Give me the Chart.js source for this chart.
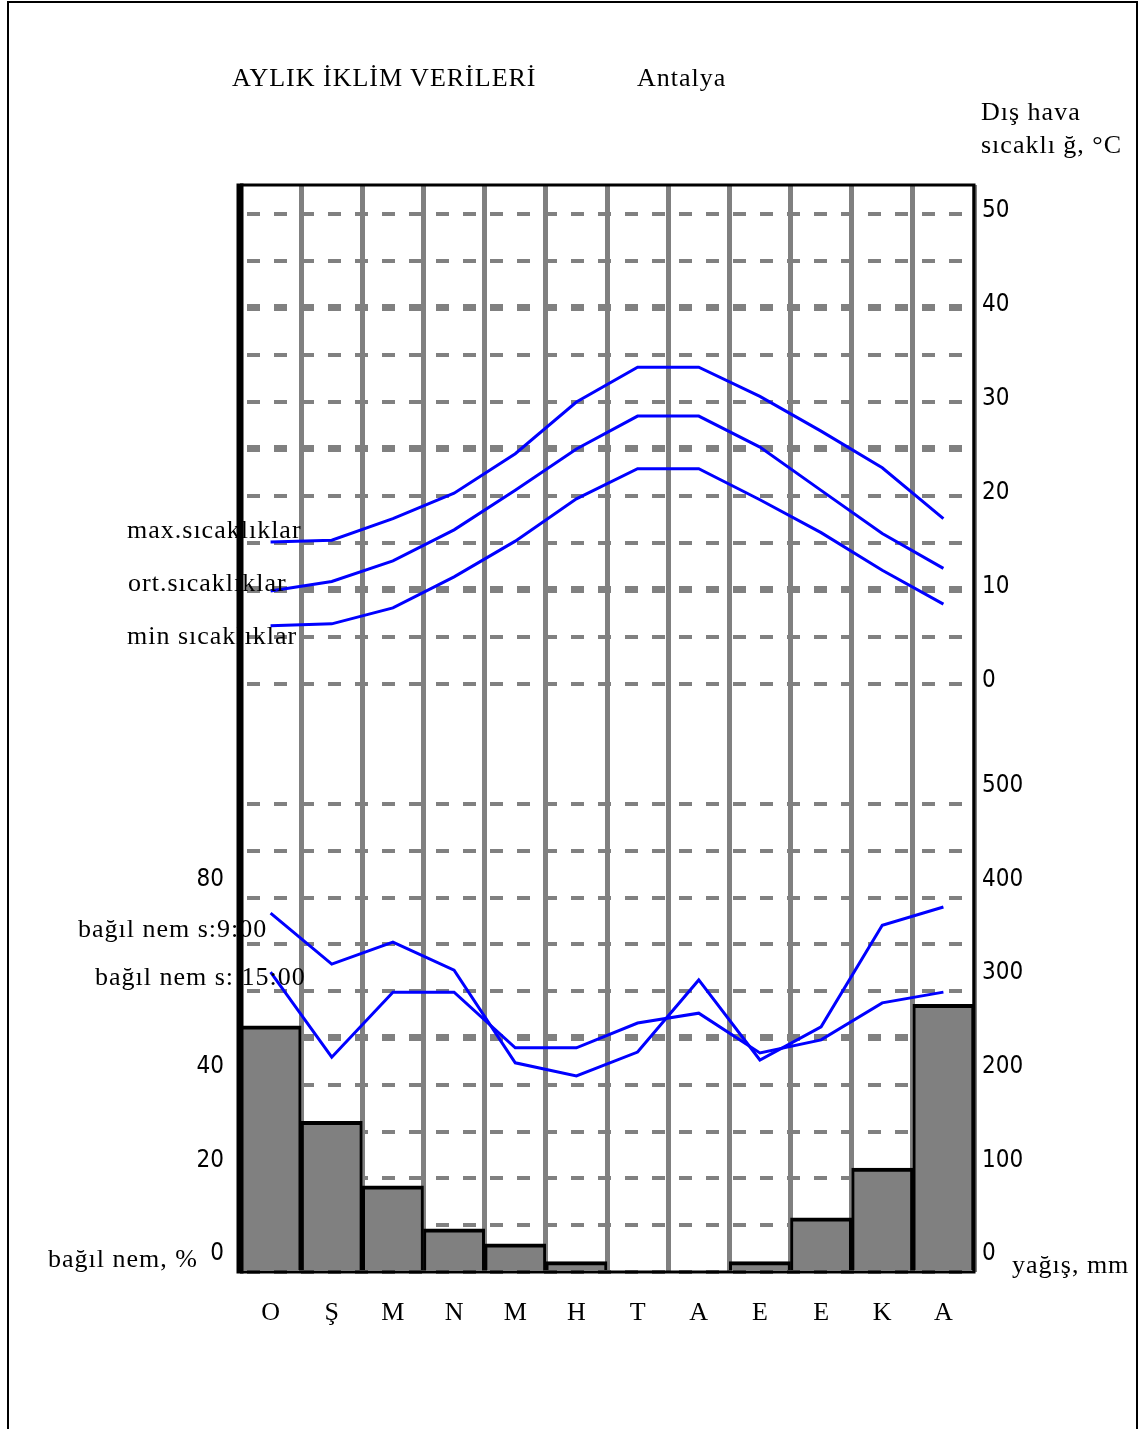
<!DOCTYPE html>
<html lang="tr">
<head>
<meta charset="utf-8">
<title>Aylık İklim Verileri - Antalya</title>
<script src="https://cdn.jsdelivr.net/npm/chart.js@4.4.1/dist/chart.umd.min.js"></script>
<style>
  html, body { margin: 0; padding: 0; background: #fff; }
  #page { position: relative; width: 1140px; height: 1429px; overflow: hidden; }
  #frame { position: absolute; left: 7px; top: 1px; width: 1127px; height: 1500px; border: 2px solid #000; }
  canvas { position: absolute; left: 0; top: 0; }
  .txt { position: absolute; font-family: "Liberation Serif", "DejaVu Serif", serif; font-size: 26px;
         letter-spacing: 1px; line-height: 26px; color: #000; white-space: nowrap; z-index: 2; }
</style>
</head>
<body>
<div id="page">
  <div id="frame"></div>
  <canvas id="climate" width="1140" height="1429"></canvas>

  <div class="txt" style="left:232px; top:65px;">AYLIK İKLİM VERİLERİ</div>
  <div class="txt" style="left:637px; top:65px;">Antalya</div>
  <div class="txt" style="left:981px; top:99px;">Dış hava</div>
  <div class="txt" style="left:981px; top:132px;">sıcaklı ğ, °C</div>

  <div class="txt" style="left:127px; top:517px;">max.sıcaklıklar</div>
  <div class="txt" style="left:128px; top:570px;">ort.sıcaklıklar</div>
  <div class="txt" style="left:127px; top:623px;">min sıcaklıklar</div>

  <div class="txt" style="left:78px; top:916px;">bağıl nem s:9:00</div>
  <div class="txt" style="left:95px; top:964px;">bağıl nem s: 15:00</div>
  <div class="txt" style="left:48px; top:1246px;">bağıl nem, %</div>
  <div class="txt" style="left:1012px; top:1252px;">yağış, mm</div>
</div>

<script>
// aylar (Ocak - Aralık)
const months = ["O", "Ş", "M", "N", "M", "H", "T", "A", "E", "E", "K", "A"];

// sıcaklıklar, °C
const maxTemp = [15.1, 15.3, 17.6, 20.3, 24.5, 30.0, 33.7, 33.7, 30.6, 26.9, 23.0, 17.6];
const avgTemp = [9.9, 10.9, 13.1, 16.4, 20.6, 25.0, 28.5, 28.5, 25.2, 20.6, 16.0, 12.3];
const minTemp = [6.2, 6.4, 8.1, 11.4, 15.2, 19.7, 22.9, 22.9, 19.6, 16.1, 12.1, 8.5];

// bağıl nem, %
const humidity09 = [76.7, 65.8, 70.5, 64.5, 44.7, 41.9, 47.0, 62.4, 45.3, 52.4, 74.1, 78.0];
const humidity15 = [64.1, 45.9, 59.8, 59.8, 47.9, 47.9, 53.2, 55.3, 46.8, 49.6, 57.5, 59.8];

// yağış, mm
const rainfall = [263, 161, 92, 46, 30, 11, 0, 0, 11, 58, 111, 286];

// eksen etiketleri
const tempTicks = [0, 10, 20, 30, 40, 50];
const rainTicks = [0, 100, 200, 300, 400, 500];
const humidityTicks = [0, 20, 40, 80];

const gray = "#808080";
const blue = "#0000ff";

Chart.defaults.font.family = '"DejaVu Sans Condensed", "Liberation Sans Narrow", "DejaVu Sans", sans-serif';
Chart.defaults.font.size = 24;
Chart.defaults.color = "#000";

function gridTicks(scale, from, to, step) {
  const t = [];
  for (let v = from; v <= to; v += step) t.push({ value: v });
  scale.ticks = t;
}

// çerçeve
const framePlugin = {
  id: "frame",
  afterDatasetsDraw(chart) {
    const { ctx, chartArea: a } = chart;
    ctx.save();
    ctx.strokeStyle = "#000";
    ctx.lineWidth = 3;
    ctx.beginPath();
    ctx.moveTo(a.left, a.top);
    ctx.lineTo(a.right, a.top);
    ctx.lineTo(a.right, a.bottom);
    ctx.lineTo(a.left, a.bottom);
    ctx.stroke();
    ctx.lineWidth = 7;
    ctx.beginPath();
    ctx.moveTo(a.left, a.top - 1.5);
    ctx.lineTo(a.left, a.bottom + 1.5);
    ctx.stroke();
    ctx.restore();
  }
};

function lineSet(label, data, axis) {
  return {
    type: "line",
    label: label,
    data: data,
    yAxisID: axis,
    borderColor: blue,
    borderWidth: 3,
    pointRadius: 0,
    fill: false,
    order: 1
  };
}

new Chart(document.getElementById("climate"), {
  type: "bar",
  data: {
    labels: months,
    datasets: [
      lineSet("max.sıcaklıklar", maxTemp, "yT"),
      lineSet("ort.sıcaklıklar", avgTemp, "yT"),
      lineSet("min sıcaklıklar", minTemp, "yT"),
      lineSet("bağıl nem s:9:00", humidity09, "yH"),
      lineSet("bağıl nem s:15:00", humidity15, "yH"),
      {
        type: "bar",
        label: "yağış, mm",
        data: rainfall,
        yAxisID: "yR",
        backgroundColor: gray,
        borderColor: "#000",
        borderWidth: { top: 4, left: 3, right: 3, bottom: 0 },
        borderSkipped: false,
        barPercentage: 1,
        categoryPercentage: 1,
        order: 2
      }
    ]
  },
  options: {
    responsive: false,
    animation: false,
    layout: { padding: { top: 185, left: 170, right: 106, bottom: 97 } },
    plugins: {
      legend: { display: false },
      tooltip: { enabled: false }
    },
    scales: {
      x: {
        grid: { color: gray, lineWidth: 5, drawTicks: false },
        border: { display: false },
        ticks: {
          font: { family: '"Liberation Serif", serif', size: 26 },
          padding: 26,
          autoSkip: false,
          maxRotation: 0
        },
        afterFit: (s) => { s.height = 60; }
      },
      yH: {
        position: "left",
        min: 0,
        max: 232.26,
        grid: { display: false },
        border: { display: false },
        afterBuildTicks: (s) => { s.ticks = humidityTicks.map((v) => ({ value: v })); },
        ticks: { padding: 8, labelOffset: -18, autoSkip: false },
        afterFit: (s) => { s.width = 70; }
      },
      yT: {
        position: "right",
        stack: "right",
        stackWeight: 559,
        min: -6.383,
        max: 53.085,
        grid: {
          color: gray,
          lineWidth: (c) => ([10, 25, 40].includes(c.tick && c.tick.value) ? 7 : 4),
          drawTicks: false
        },
        border: { display: false, dash: [13, 14], dashOffset: 20 },
        afterBuildTicks: (s) => gridTicks(s, 0, 50, 5),
        ticks: {
          padding: 8,
          labelOffset: -3,
          autoSkip: false,
          callback: (v) => (tempTicks.includes(v) ? String(v) : "")
        },
        afterFit: (s) => { s.width = 60; }
      },
      yR: {
        position: "right",
        stack: "right",
        stackWeight: 528,
        min: 0,
        max: 564.1,
        grid: {
          color: gray,
          lineWidth: (c) => ((c.tick && c.tick.value === 250) ? 7 : 4),
          drawTicks: false
        },
        border: { display: false, dash: [13, 14], dashOffset: 20 },
        afterBuildTicks: (s) => gridTicks(s, 0, 500, 50),
        ticks: {
          padding: 8,
          labelOffset: -18,
          autoSkip: false,
          callback: (v) => (rainTicks.includes(v) ? String(v) : "")
        },
        afterFit: (s) => { s.width = 60; }
      }
    }
  },
  plugins: [framePlugin]
});
</script>
</body>
</html>
